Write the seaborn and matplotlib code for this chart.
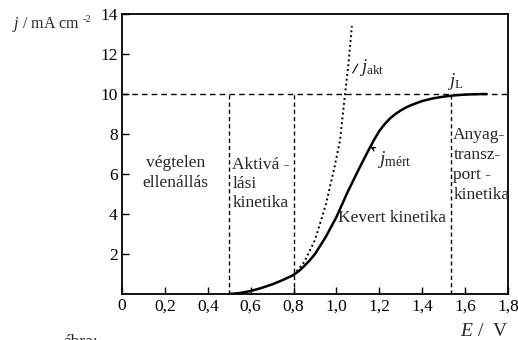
import matplotlib
matplotlib.use("Agg")
import matplotlib.pyplot as plt
import seaborn as sns
import pandas as pd

# ---- data ----
E_mert = [0.50, 0.55, 0.60, 0.65, 0.70, 0.75, 0.80, 0.825, 0.85, 0.875, 0.90, 0.95,
          1.00, 1.05, 1.10, 1.15, 1.175, 1.20, 1.225, 1.25, 1.275, 1.30, 1.325, 1.35,
          1.40, 1.45, 1.50, 1.55, 1.60, 1.65, 1.70]
j_mert = [0.0, 0.05, 0.15, 0.30, 0.48, 0.70, 0.95, 1.15, 1.40, 1.68, 2.00, 2.85,
          3.85, 5.05, 6.15, 7.20, 7.70, 8.15, 8.50, 8.78, 9.00, 9.18, 9.33, 9.45,
          9.65, 9.78, 9.87, 9.93, 9.97, 9.99, 10.0]

E_akt = [0.80, 0.85, 0.90, 0.95, 0.99, 1.017, 1.04, 1.055, 1.072]
j_akt = [0.95, 1.60, 2.70, 4.45, 6.30, 7.70, 10.0, 11.4, 13.4]

j_L = 10.0
region_bounds = [0.5, 0.8, 1.535]

x_ticks = [0, 0.2, 0.4, 0.6, 0.8, 1.0, 1.2, 1.4, 1.6, 1.8]
x_ticklabels = ["0", "0,2", "0,4", "0,6", "0,8", "1,0", "1,2", "1,4", "1,6", "1,8"]
y_ticks = [2, 4, 6, 8, 10, 12, 14]
y_ticklabels = ["2", "4", "6", "8", "10", "12", "14"]

region_labels = ["végtelen\nellenállás", "Aktivá -\nlási\nkinetika",
                 "Kevert kinetika", "Anyag-\ntransz-\nport -\nkinetika"]

# ---- style ----
sns.set_theme(style="ticks")
plt.rcParams["font.family"] = ["Liberation Serif", "DejaVu Serif"]
plt.rcParams["mathtext.fontset"] = "custom"
plt.rcParams["mathtext.rm"] = "Liberation Serif"
plt.rcParams["mathtext.it"] = "Liberation Serif:italic"
plt.rcParams["mathtext.bf"] = "Liberation Serif:bold"

fig = plt.figure(figsize=(5.18, 3.40), dpi=100)
ax = fig.add_axes([122/518, 1-294/340, (508-122)/518, (294-14)/340])

df_m = pd.DataFrame({"E": E_mert, "j": j_mert})
df_a = pd.DataFrame({"E": E_akt, "j": j_akt})

# dashed guide lines
ax.axhline(j_L, color="black", lw=1.0, ls=(0, (4, 3)), zorder=1)
ax.vlines(region_bounds, 0, j_L, color="black", lw=1.0, ls=(0, (3, 2.2)), zorder=1)

sns.lineplot(data=df_a, x="E", y="j", ax=ax, color="black", lw=1.4,
             linestyle=(0, (1, 1.5)), sort=False, estimator=None)
sns.lineplot(data=df_m, x="E", y="j", ax=ax, color="black", lw=1.8,
             sort=False, estimator=None)

ax.set_xlim(0, 1.8)
ax.set_ylim(0, 14)
ax.set_xticks(x_ticks)
ax.set_xticklabels(x_ticklabels)
ax.set_yticks(y_ticks)
ax.set_yticklabels(y_ticklabels)
ax.set_xlabel("")
ax.set_ylabel("")
ax.tick_params(direction="in", length=5, width=1, labelsize=12.5, pad=3,
               colors="black")
for s in ax.spines.values():
    s.set_linewidth(1.3)
    s.set_color("black")
    s.set_visible(True)

fs = 12.5
ax.text(0.25, 6.05, region_labels[0], ha="center", va="center", fontsize=fs,
        linespacing=1.3)
ax.text(0.515, 5.5, region_labels[1], ha="left", va="center", fontsize=fs,
        linespacing=1.25)
ax.text(1.26, 3.8, region_labels[2], ha="center", va="center", fontsize=fs)
ax.text(1.545, 6.45, region_labels[3], ha="left", va="center", fontsize=fs,
        linespacing=1.35)

# curve labels
ax.text(1.105, 11.35, r"$j_{\rm akt}$", ha="left", va="center", fontsize=13.5)
ax.plot([1.100, 1.076], [11.5, 11.05], color="black", lw=0.8)
ax.text(1.515, 10.65, r"$j_{\rm L}$", ha="left", va="center", fontsize=13.5)
ax.annotate(r"$j_{\rm mért}$", xy=(1.158, 7.35), xytext=(1.19, 6.75),
            ha="left", va="center", fontsize=14,
            arrowprops=dict(arrowstyle="->", color="black", lw=0.8,
                            shrinkA=0, shrinkB=0, mutation_scale=7),
            )

fig.text(12/518, 1-25/340, r"$j$ / mA cm", ha="left", va="center",
         fontsize=11.5)
fig.text(83/518, 1-19/340, "-2", ha="left", va="center", fontsize=7.5)
fig.text(508/518, 1-332/340, r"$E$ /  V", ha="right", va="center", fontsize=14)
fig.text(63/518, 1-334/340, "ábra:", ha="left", va="top", fontsize=12.5)

fig.savefig("out.png", dpi=100)
